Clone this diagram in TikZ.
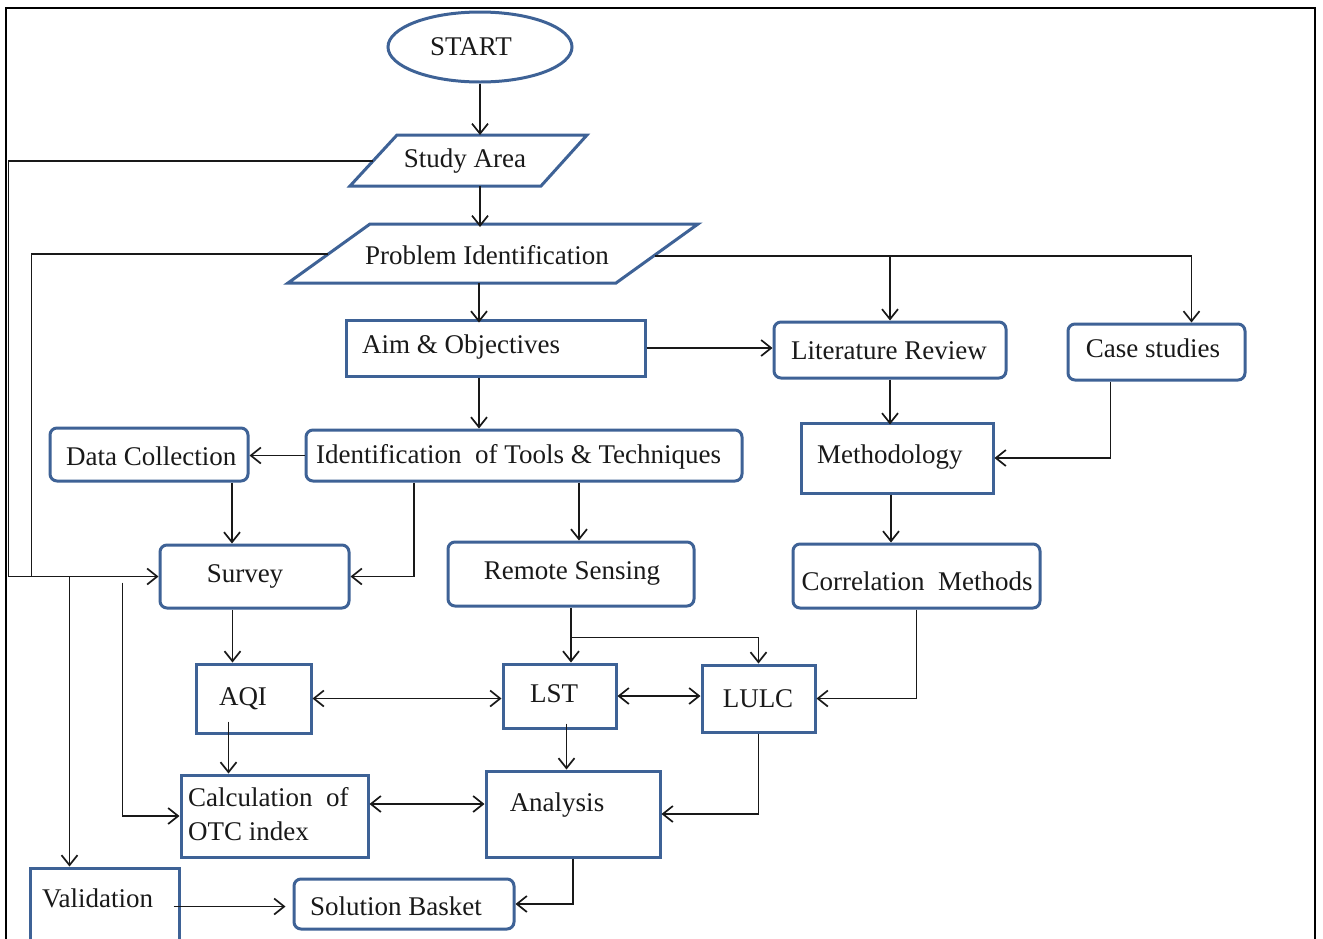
\documentclass[tikz,border=0pt]{standalone}
\usepackage{fontspec}
\setmainfont{Liberation Serif}
\usetikzlibrary{arrows.meta,shapes.geometric,calc}
\definecolor{edge}{RGB}{62,98,150}
\definecolor{ink}{RGB}{25,25,25}
\tikzset{
  box/.style={draw=edge, line width=3pt, fill=white, inner sep=0pt},
  rbox/.style={box, rounded corners=7pt},
  para/.style={draw=edge, line width=3pt, fill=white, line join=miter},
  txt/.style={text=ink, inner sep=0pt, font=\fontsize{27}{34}\selectfont},
  conn/.style={draw=ink, line width=1.7pt},
  tip/.tip={Straight Barb[length=10pt,width=16pt,line width=1.7pt]},
  arr/.style={conn, -tip},
  darr/.style={conn, tip-tip},
  frame/.style={draw=black, line width=1.6pt}
}
\begin{document}
\begin{tikzpicture}[x=1pt,y=-1pt]
\useasboundingbox (0,0) rectangle (1323,938);
\fill[white] (0,0) rectangle (1323,938);

% outer frame
\draw[frame] (6,945) -- (6,8) -- (1315,8) -- (1315,945);

% terminal
\node[ellipse, draw=edge, line width=3pt, fill=white, minimum width=184pt, minimum height=70pt, inner sep=0pt] (start) at (480,47) {};
\node[txt] (start-t) at (471,47) {START};

% input / output shapes
\draw[para] (350,186) -- (397,135) -- (587,135) -- (541,186) -- cycle;
\node[txt] (study) at (465,161) {Study Area};
\coordinate (study-n) at (480,135);
\coordinate (study-s) at (480,186);
\coordinate (study-w) at (373,161);

\draw[para] (288,283) -- (370,224) -- (698,224) -- (616,283) -- cycle;
\node[txt] (prob) at (487,255) {Problem Identification};
\coordinate (prob-n) at (480,227);
\coordinate (prob-s) at (479,283);
\coordinate (prob-w) at (328,254);
\coordinate (prob-e) at (655,256);

% process boxes
\node[box, minimum width=299pt, minimum height=56pt] (aim) at (495.5,348) {};
\node[txt, anchor=west] (aim-t) at (362,347) {Aim \& Objectives};

\node[rbox, minimum width=232pt, minimum height=56pt] (lit) at (890,350) {};
\node[txt] (lit-t) at (889,351) {Literature Review};

\node[rbox, minimum width=177pt, minimum height=56pt] (case) at (1156.5,352) {};
\node[txt] (case-t) at (1153,348) {Case studies};

\node[box, minimum width=192pt, minimum height=70pt] (meth) at (897,458) {};
\node[txt, anchor=west] (meth-t) at (817,457) {Methodology};

\node[rbox, minimum width=436pt, minimum height=51pt] (ident) at (524,455.5) {};
\node[txt, anchor=west] (ident-t) at (316,457) {Identification\ \ of Tools \& Techniques};

\node[rbox, minimum width=198pt, minimum height=53pt] (data) at (149,454.5) {};
\node[txt, anchor=west] (data-t) at (66,456) {Data Collection};

\node[rbox, minimum width=189pt, minimum height=63pt] (survey) at (254.5,576.5) {};
\node[txt] (survey-t) at (245,576) {Survey};

\node[rbox, minimum width=246pt, minimum height=64pt] (remote) at (571,574) {};
\node[txt] (remote-t) at (572,573) {Remote Sensing};

\node[rbox, minimum width=247pt, minimum height=64pt] (corr) at (916.5,576) {};
\node[txt] (corr-t) at (917,581) {Correlation\ \ Methods};

\node[box, minimum width=115pt, minimum height=69pt] (aqi) at (253.5,698.5) {};
\node[txt] (aqi-t) at (243,699) {AQI};

\node[box, minimum width=113pt, minimum height=64pt] (lst) at (559.5,696) {};
\node[txt] (lst-t) at (554,694) {LST};

\node[box, minimum width=113pt, minimum height=67pt] (lulc) at (758.5,698.5) {};
\node[txt] (lulc-t) at (758,699) {LULC};

\node[box, minimum width=187pt, minimum height=82pt] (calc) at (274.5,816) {};
\node[txt, anchor=west, align=left] (calc-t) at (188,814) {Calculation\ \ of\\OTC index};

\node[box, minimum width=174pt, minimum height=86pt] (analysis) at (573,814) {};
\node[txt] (analysis-t) at (557,805) {Analysis};

\node[box, minimum width=149pt, minimum height=77pt] (val) at (104.5,906.5) {};
\node[txt, anchor=west] (val-t) at (42,898) {Validation};

\node[rbox, minimum width=220pt, minimum height=50pt] (sol) at (404,904) {};
\node[txt] (sol-t) at (396,906) {Solution Basket};

% main spine
\draw[arr] (start) -- (study-n);
\draw[arr] (study-s) -- (prob-n);
\draw[arr] (prob-s) -- ([yshift=-4pt]prob-s |- aim.north);
\draw[arr] (aim.south -| prob-s) -- (prob-s |- ident.north);

% literature branch
\draw[arr] (aim.east) -- (aim.east -| lit.west);
\draw[conn] (prob-e) -- (prob-e -| lit.north);
\draw[arr] (prob-e -| lit.north) -- (lit.north);
\draw[arr] (prob-e -| lit.north) -| ([xshift=35pt]case.north);
\draw[arr] (lit.south) -- ([yshift=-3pt]lit.south |- meth.north);
\draw[arr] ([xshift=-46pt]case.south) |- (meth.east);
\draw[arr] ([xshift=-6pt]meth.south) -- ([xshift=-6pt]meth.south |- corr.north);

% tools branch
\draw[arr] (ident.west) -- (ident.west -| data.east);
\draw[arr] ([xshift=83pt]data.south) -- ([xshift=83pt]data.south |- survey.north);
\draw[arr] ([xshift=-110pt]ident.south) |- (survey.east);
\draw[arr] ([xshift=55pt]ident.south) -- ([xshift=55pt]ident.south |- remote.north);

% feedback lines on the left
\draw[arr] (study-w) -| ([xshift=-150pt]survey.west) -- (survey.west);
\draw[conn] (prob-w) -| ([xshift=-127pt]survey.west);
\draw[arr] ([xshift=-89pt]survey.west) -- ([xshift=-89pt]survey.west |- val.north);
\draw[arr] ([xshift=-36pt,yshift=-6pt]survey.west) |- (calc.west);

% survey and indices
\draw[arr] ([xshift=-22pt]survey.south) -- ([xshift=-22pt]survey.south |- aqi.north);
\draw[arr] ([xshift=-25pt,yshift=13pt]aqi.south) -- ([xshift=-25pt]aqi.south |- calc.north);
\draw[darr] (aqi.east) -- (aqi.east -| lst.west);

% remote sensing products
\draw[conn] (remote.south) -- ++(0,30) coordinate (rs-split);
\draw[arr] (rs-split) -- (rs-split |- lst.north);
\draw[arr] (rs-split) -| (lulc.north);
\draw[darr] (lst.east) -- (lst.east -| lulc.west);
\draw[arr] (corr.south) |- (lulc.east);

% analysis and outcome
\draw[arr] ([xshift=7pt,yshift=6pt]lst.south) -- ([xshift=7pt]lst.south |- analysis.north);
\draw[arr] (lulc.south) |- (analysis.east);
\draw[darr] ([yshift=12pt]calc.east) -- ([yshift=12pt]calc.east -| analysis.west);
\draw[arr] ([xshift=-7pt]val.east) -- ([xshift=-7pt]val.east -| sol.west);
\draw[arr] (analysis.south) |- (sol.east);
\end{tikzpicture}
\end{document}
